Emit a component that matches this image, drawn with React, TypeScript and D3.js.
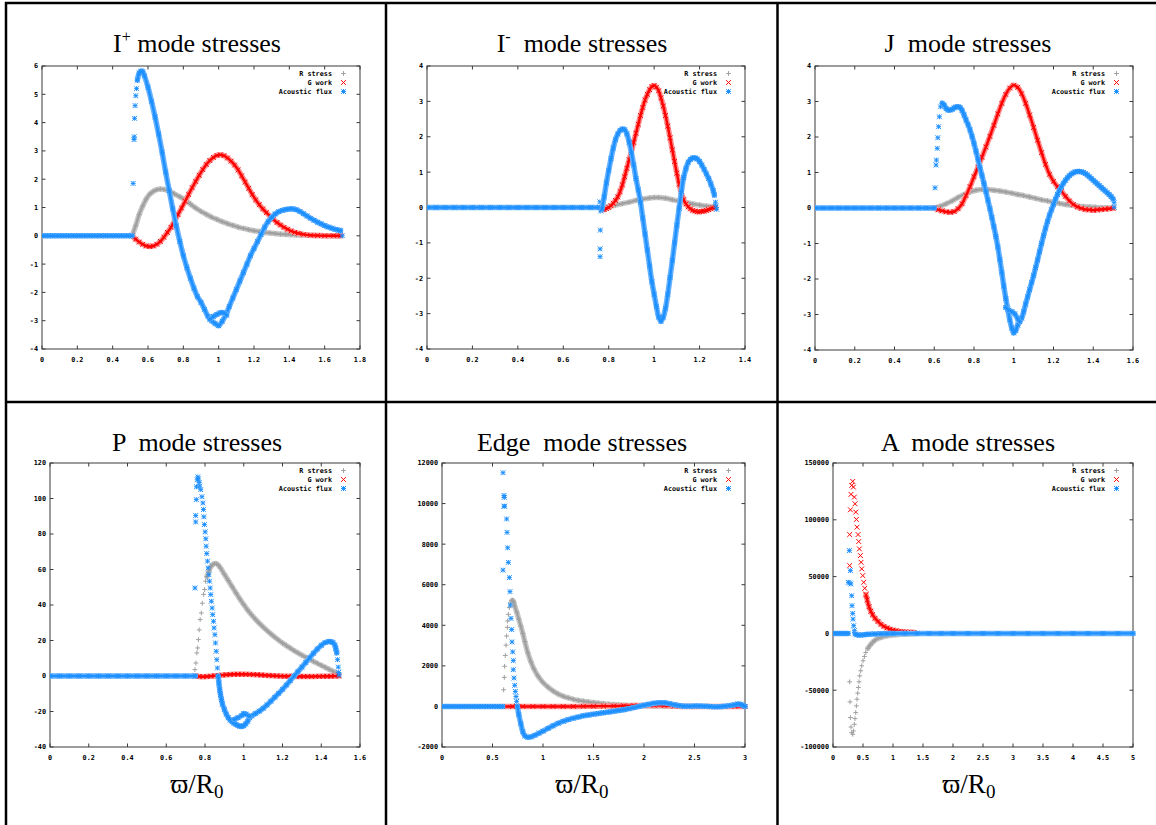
import React from 'react';
import * as d3 from 'd3';

type Pt = [number, number];

// ---------------- Panel 1: I+ mode ----------------
const iPlusXTicks = [0, 0.2, 0.4, 0.6, 0.8, 1, 1.2, 1.4, 1.6, 1.8];
const iPlusYTicks = [-4, -3, -2, -1, 0, 1, 2, 3, 4, 5, 6];
const iPlusR: Pt[] = [[0.51,0],[0.53,0.35],[0.55,0.75],[0.57,1.05],[0.59,1.3],[0.61,1.47],[0.63,1.57],[0.65,1.63],[0.67,1.65],[0.69,1.64],[0.71,1.6],[0.73,1.55],[0.75,1.48],[0.78,1.38],[0.81,1.27],[0.84,1.12],[0.87,0.98],[0.9,0.86],[0.93,0.76],[0.96,0.66],[0.99,0.58],[1.02,0.5],[1.05,0.43],[1.08,0.37],[1.11,0.31],[1.14,0.26],[1.17,0.22],[1.2,0.18],[1.23,0.15],[1.26,0.12],[1.29,0.1],[1.32,0.08],[1.35,0.06],[1.38,0.05],[1.41,0.04],[1.44,0.03],[1.5,0.02],[1.55,0.01],[1.6,0.005],[1.65,0],[1.69,0]];
const iPlusG: Pt[] = [[0.51,0],[0.53,-0.12],[0.55,-0.22],[0.57,-0.3],[0.59,-0.36],[0.61,-0.38],[0.63,-0.36],[0.65,-0.3],[0.67,-0.2],[0.69,-0.05],[0.71,0.12],[0.73,0.3],[0.75,0.52],[0.77,0.75],[0.79,0.98],[0.81,1.22],[0.83,1.46],[0.85,1.7],[0.87,1.92],[0.89,2.14],[0.91,2.34],[0.93,2.52],[0.95,2.66],[0.97,2.77],[0.99,2.84],[1.01,2.86],[1.03,2.83],[1.05,2.75],[1.07,2.64],[1.09,2.5],[1.11,2.33],[1.13,2.12],[1.15,1.9],[1.17,1.68],[1.19,1.46],[1.21,1.27],[1.23,1.1],[1.25,0.95],[1.27,0.82],[1.29,0.7],[1.31,0.58],[1.33,0.47],[1.35,0.38],[1.37,0.3],[1.39,0.23],[1.41,0.17],[1.43,0.12],[1.45,0.09],[1.48,0.05],[1.52,0.02],[1.56,0.01],[1.6,0],[1.65,0],[1.69,0]];
const iPlusFluxFlat: Pt[] = [[0,0],[0.03,0],[0.06,0],[0.09,0],[0.12,0],[0.15,0],[0.18,0],[0.21,0],[0.24,0],[0.27,0],[0.3,0],[0.33,0],[0.36,0],[0.39,0],[0.42,0],[0.45,0],[0.48,0],[0.51,0]];
const iPlusFluxRise: Pt[] = [[0.516,1.85],[0.521,3.4],[0.522,3.5],[0.524,4.15],[0.527,4.6],[0.531,4.95],[0.535,5.2],[1.7,0]];
const iPlusFluxMain: Pt[] = [[0.54,5.5],[0.55,5.75],[0.56,5.82],[0.57,5.8],[0.58,5.65],[0.6,5.25],[0.62,4.75],[0.64,4.2],[0.66,3.6],[0.68,2.95],[0.7,2.25],[0.72,1.6],[0.74,0.95],[0.76,0.35],[0.78,-0.2],[0.8,-0.7],[0.82,-1.12],[0.84,-1.5],[0.86,-1.85],[0.88,-2.15],[0.9,-2.35],[0.92,-2.6],[0.94,-2.85],[0.96,-3.0],[0.98,-3.1],[1.0,-3.18],[1.02,-3.02],[1.04,-2.8],[1.06,-2.5],[1.08,-2.2],[1.1,-1.9],[1.12,-1.6],[1.14,-1.3],[1.16,-1.0],[1.18,-0.7],[1.2,-0.45],[1.22,-0.2],[1.24,0.05],[1.26,0.3],[1.28,0.5],[1.3,0.65],[1.32,0.77],[1.34,0.85],[1.36,0.9],[1.38,0.93],[1.4,0.95],[1.42,0.95],[1.44,0.92],[1.46,0.86],[1.48,0.78],[1.5,0.7],[1.52,0.62],[1.54,0.55],[1.56,0.48],[1.58,0.42],[1.6,0.36],[1.62,0.31],[1.64,0.27],[1.66,0.23],[1.68,0.2],[1.69,0.18]];
const iPlusFluxLoop: Pt[] = [[0.95,-2.95],[0.97,-2.85],[0.99,-2.78],[1.01,-2.72],[1.03,-2.72],[1.045,-2.8]];

// ---------------- Panel 2: I- mode ----------------
const iMinusXTicks = [0, 0.2, 0.4, 0.6, 0.8, 1, 1.2, 1.4];
const iMinusYTicks = [-4, -3, -2, -1, 0, 1, 2, 3, 4];
const iMinusR: Pt[] = [[0.77,0],[0.8,0.03],[0.83,0.07],[0.86,0.11],[0.89,0.15],[0.92,0.2],[0.95,0.24],[0.98,0.27],[1.0,0.28],[1.02,0.28],[1.05,0.26],[1.08,0.22],[1.11,0.18],[1.14,0.14],[1.17,0.1],[1.2,0.07],[1.23,0.04],[1.26,0.02],[1.27,0.01]];
const iMinusG: Pt[] = [[0.77,-0.05],[0.78,-0.06],[0.79,-0.03],[0.8,0.0],[0.81,0.05],[0.82,0.12],[0.83,0.2],[0.84,0.3],[0.85,0.45],[0.86,0.64],[0.87,0.87],[0.88,1.11],[0.89,1.35],[0.9,1.58],[0.91,1.84],[0.92,2.1],[0.93,2.35],[0.94,2.6],[0.95,2.83],[0.96,3.04],[0.97,3.2],[0.98,3.33],[0.99,3.42],[1.0,3.45],[1.01,3.4],[1.02,3.3],[1.03,3.1],[1.04,2.87],[1.05,2.6],[1.06,2.3],[1.07,1.97],[1.08,1.63],[1.09,1.3],[1.1,0.97],[1.11,0.66],[1.12,0.4],[1.13,0.22],[1.14,0.1],[1.15,0.02],[1.16,-0.04],[1.17,-0.08],[1.18,-0.1],[1.19,-0.12],[1.2,-0.12],[1.21,-0.11],[1.22,-0.1],[1.23,-0.08],[1.24,-0.06],[1.25,-0.03],[1.26,-0.01],[1.27,0]];
const iMinusFluxFlat: Pt[] = [[0,0],[0.04,0],[0.08,0],[0.12,0],[0.16,0],[0.2,0],[0.24,0],[0.28,0],[0.32,0],[0.36,0],[0.4,0],[0.44,0],[0.48,0],[0.52,0],[0.56,0],[0.6,0],[0.64,0],[0.68,0],[0.72,0],[0.76,0]];
const iMinusFluxSparse: Pt[] = [[0.761,0.16],[0.763,-0.64],[0.762,-1.17],[0.762,-1.39],[0.765,-0.1],[1.27,0.15],[1.272,0.05],[1.275,-0.05]];
const iMinusFluxMain: Pt[] = [[0.77,-0.05],[0.78,0.3],[0.79,0.7],[0.8,1.05],[0.81,1.38],[0.82,1.68],[0.83,1.92],[0.84,2.08],[0.85,2.18],[0.86,2.22],[0.87,2.2],[0.88,2.08],[0.89,1.85],[0.9,1.55],[0.91,1.2],[0.92,0.82],[0.93,0.5],[0.94,0.15],[0.95,-0.3],[0.96,-0.75],[0.97,-1.2],[0.98,-1.65],[0.99,-2.1],[1.0,-2.45],[1.01,-2.8],[1.02,-3.1],[1.03,-3.22],[1.04,-3.1],[1.05,-2.85],[1.06,-2.45],[1.07,-1.98],[1.08,-1.5],[1.09,-1.0],[1.1,-0.5],[1.11,-0.02],[1.12,0.45],[1.13,0.85],[1.14,1.1],[1.15,1.28],[1.16,1.36],[1.17,1.4],[1.18,1.4],[1.19,1.37],[1.2,1.3],[1.21,1.2],[1.22,1.08],[1.23,0.95],[1.24,0.82],[1.25,0.66],[1.26,0.48],[1.265,0.35]];

// ---------------- Panel 3: J mode ----------------
const jXTicks = [0, 0.2, 0.4, 0.6, 0.8, 1, 1.2, 1.4, 1.6];
const jYTicks = [-4, -3, -2, -1, 0, 1, 2, 3, 4];
const jR: Pt[] = [[0.6,0],[0.63,0.05],[0.66,0.12],[0.69,0.2],[0.72,0.3],[0.75,0.38],[0.78,0.45],[0.81,0.5],[0.84,0.52],[0.87,0.52],[0.9,0.5],[0.93,0.48],[0.96,0.45],[0.99,0.42],[1.02,0.38],[1.05,0.35],[1.08,0.31],[1.11,0.27],[1.14,0.23],[1.17,0.2],[1.2,0.16],[1.23,0.13],[1.26,0.1],[1.29,0.08],[1.32,0.06],[1.35,0.04],[1.38,0.03],[1.41,0.02],[1.44,0.01],[1.47,0.005],[1.5,0]];
const jG: Pt[] = [[0.6,0],[0.62,-0.05],[0.64,-0.08],[0.66,-0.11],[0.68,-0.12],[0.7,-0.1],[0.72,-0.02],[0.74,0.12],[0.76,0.35],[0.78,0.6],[0.8,0.88],[0.82,1.15],[0.84,1.43],[0.86,1.72],[0.88,2.02],[0.9,2.33],[0.92,2.65],[0.94,2.95],[0.96,3.2],[0.98,3.38],[1.0,3.46],[1.02,3.4],[1.04,3.22],[1.06,2.95],[1.08,2.62],[1.1,2.27],[1.12,1.91],[1.14,1.56],[1.16,1.23],[1.18,0.95],[1.2,0.75],[1.22,0.6],[1.24,0.47],[1.26,0.33],[1.28,0.2],[1.3,0.1],[1.32,0.03],[1.34,-0.01],[1.36,-0.04],[1.38,-0.05],[1.4,-0.06],[1.42,-0.05],[1.44,-0.04],[1.46,-0.03],[1.48,-0.02],[1.5,-0.01]];
const jFluxFlat: Pt[] = [[0,0],[0.04,0],[0.08,0],[0.12,0],[0.16,0],[0.2,0],[0.24,0],[0.28,0],[0.32,0],[0.36,0],[0.4,0],[0.44,0],[0.48,0],[0.52,0],[0.56,0],[0.6,0]];
const jFluxSparse: Pt[] = [[0.604,0.57],[0.609,1.21],[0.611,1.35],[0.615,1.68],[0.618,1.98],[0.622,2.29],[0.626,2.57],[0.632,2.85],[1.505,0.15],[1.505,0.02]];
const jFluxMain: Pt[] = [[0.64,2.95],[0.65,2.9],[0.66,2.8],[0.67,2.76],[0.68,2.76],[0.69,2.78],[0.7,2.82],[0.71,2.85],[0.72,2.85],[0.73,2.83],[0.74,2.75],[0.75,2.62],[0.76,2.48],[0.77,2.35],[0.78,2.2],[0.79,2.02],[0.8,1.82],[0.81,1.6],[0.82,1.37],[0.83,1.14],[0.84,0.92],[0.85,0.69],[0.86,0.46],[0.87,0.22],[0.88,-0.02],[0.89,-0.27],[0.9,-0.53],[0.91,-0.8],[0.92,-1.1],[0.93,-1.45],[0.94,-1.82],[0.95,-2.2],[0.96,-2.55],[0.97,-2.85],[0.98,-3.15],[0.99,-3.38],[1.0,-3.52],[1.01,-3.45],[1.02,-3.3],[1.03,-3.2],[1.04,-3.1],[1.05,-2.92],[1.06,-2.7],[1.07,-2.5],[1.08,-2.3],[1.09,-2.1],[1.1,-1.9],[1.11,-1.68],[1.12,-1.46],[1.13,-1.23],[1.14,-1.0],[1.15,-0.78],[1.16,-0.57],[1.17,-0.38],[1.18,-0.2],[1.19,-0.05],[1.2,0.1],[1.21,0.25],[1.22,0.38],[1.23,0.5],[1.24,0.6],[1.25,0.7],[1.26,0.78],[1.27,0.85],[1.28,0.91],[1.29,0.96],[1.3,0.99],[1.31,1.02],[1.32,1.03],[1.33,1.03],[1.34,1.02],[1.35,1.0],[1.36,0.97],[1.37,0.93],[1.38,0.88],[1.39,0.83],[1.4,0.78],[1.41,0.73],[1.42,0.68],[1.43,0.63],[1.44,0.58],[1.45,0.53],[1.46,0.48],[1.47,0.43],[1.48,0.38],[1.49,0.32],[1.5,0.25]];
const jFluxLoop: Pt[] = [[0.96,-2.8],[0.975,-2.88],[0.99,-2.92],[1.005,-2.98],[1.02,-3.12],[1.03,-3.2]];

// ---------------- Panel 4: P mode ----------------
const pXTicks = [0, 0.2, 0.4, 0.6, 0.8, 1, 1.2, 1.4, 1.6];
const pYTicks = [-40, -20, 0, 20, 40, 60, 80, 100, 120];
const pRSparse: Pt[] = [[0.748,3.6],[0.753,7.3],[0.758,13],[0.762,15.8],[0.766,20.5],[0.77,26],[0.775,31.8],[0.781,35.5],[0.786,41],[0.793,46],[0.798,48.7],[0.803,53.4]];
const pRMain: Pt[] = [[0.81,56],[0.82,59],[0.83,61.5],[0.84,62.8],[0.85,63.3],[0.86,63.2],[0.87,62.3],[0.88,60.8],[0.9,57.3],[0.92,53.8],[0.94,50.3],[0.96,46.8],[0.98,43.4],[1.0,40.2],[1.02,37.2],[1.04,34.5],[1.06,32],[1.08,29.7],[1.1,27.6],[1.12,25.6],[1.14,23.7],[1.16,21.9],[1.18,20.2],[1.2,18.6],[1.22,17.1],[1.24,15.7],[1.26,14.3],[1.28,13],[1.3,11.7],[1.32,10.5],[1.34,9.3],[1.36,8.2],[1.38,7.1],[1.4,6],[1.42,4.9],[1.44,3.8],[1.46,2.7],[1.48,1.5],[1.49,0.8]];
const pG: Pt[] = [[0.75,0],[0.77,-0.3],[0.79,-0.4],[0.81,-0.3],[0.83,-0.1],[0.85,0.1],[0.87,0.3],[0.89,0.5],[0.91,0.7],[0.93,0.85],[0.95,0.95],[0.97,1.0],[0.99,1.0],[1.01,0.95],[1.03,0.9],[1.05,0.8],[1.07,0.7],[1.09,0.55],[1.11,0.4],[1.13,0.3],[1.15,0.15],[1.17,0.05],[1.19,-0.05],[1.21,-0.1],[1.23,-0.15],[1.25,-0.2],[1.27,-0.22],[1.29,-0.24],[1.31,-0.25],[1.33,-0.25],[1.35,-0.24],[1.37,-0.22],[1.39,-0.2],[1.41,-0.17],[1.43,-0.13],[1.45,-0.1],[1.47,-0.05],[1.49,0]];
const pFluxFlat: Pt[] = [[0,0],[0.05,0],[0.1,0],[0.15,0],[0.2,0],[0.25,0],[0.3,0],[0.35,0],[0.4,0],[0.45,0],[0.5,0],[0.55,0],[0.6,0],[0.65,0],[0.7,0],[0.75,0]];
const pFluxSparse: Pt[] = [[0.748,49.6],[0.752,86.8],[0.752,90.4],[0.755,99.4],[0.756,106.6],[0.76,110.5],[0.763,112.2],[0.766,111],[0.77,109],[0.773,107],[0.778,105],[0.784,101],[0.789,97.5],[0.792,93.8],[0.794,89.7],[0.797,85.3],[0.801,81.2],[0.804,77.3],[0.806,73.1],[0.809,69],[0.813,64.7],[0.816,60.9],[0.82,57.1],[0.823,53.4],[0.827,49.6],[0.83,45.9],[0.833,42.1],[0.837,38.3],[0.84,34.6],[0.844,30.8],[0.847,27.1],[0.851,23.3],[0.854,18.6],[0.858,13.9],[0.861,9.2],[0.864,4.5],[1.484,9.2],[1.488,5],[1.49,2],[1.492,0.5]];
const pFluxMain: Pt[] = [[0.868,0],[0.872,-4],[0.876,-7.7],[0.88,-10.5],[0.885,-13.3],[0.89,-15.8],[0.9,-18.8],[0.91,-21.5],[0.92,-23.5],[0.93,-24.8],[0.94,-25.8],[0.95,-26.6],[0.96,-27.3],[0.97,-27.9],[0.98,-28.3],[0.99,-28.4],[1.0,-28],[1.01,-27],[1.02,-25.5],[1.03,-23.5],[1.04,-22.5],[1.06,-21.2],[1.08,-19.8],[1.1,-18.2],[1.12,-16.3],[1.14,-14.2],[1.16,-12],[1.18,-9.8],[1.2,-7.5],[1.22,-5.1],[1.24,-2.6],[1.26,0],[1.28,2.5],[1.3,5],[1.32,7.6],[1.34,10.2],[1.36,12.8],[1.38,15.2],[1.4,17.3],[1.42,18.8],[1.44,19.4],[1.45,19.3],[1.46,18.8],[1.47,17.5],[1.475,15.5],[1.48,13]];
const pFluxLoop: Pt[] = [[0.95,-24.5],[0.97,-23.5],[0.99,-22.2],[1.0,-21.2],[1.01,-21.5],[1.03,-22.7]];

// ---------------- Panel 5: Edge mode ----------------
const edgeXTicks = [0, 0.5, 1, 1.5, 2, 2.5, 3];
const edgeYTicks = [-2000, 0, 2000, 4000, 6000, 8000, 10000, 12000];
const edgeRSparse: Pt[] = [[0.61,820],[0.617,1430],[0.62,1980],[0.627,2510],[0.634,3020],[0.64,3470],[0.647,3900],[0.65,4210],[0.657,4540],[0.667,4870],[0.677,5100]];
const edgeRMain: Pt[] = [[0.69,5200],[0.7,5230],[0.71,5150],[0.72,4950],[0.74,4650],[0.76,4300],[0.78,3960],[0.8,3600],[0.82,3200],[0.85,2640],[0.88,2200],[0.91,1850],[0.95,1500],[1.0,1180],[1.05,950],[1.1,760],[1.15,610],[1.2,500],[1.25,420],[1.3,350],[1.35,300],[1.4,260],[1.45,220],[1.5,190],[1.55,160],[1.6,135],[1.65,110],[1.7,90],[1.75,75],[1.8,60],[1.85,50],[1.9,40],[2.0,30],[2.1,20],[2.2,15],[2.3,10],[2.4,5],[2.5,0]];
const edgeG: Pt[] = [[0.6,0],[0.7,0],[0.8,0],[0.9,0],[1.0,0],[1.1,0],[1.2,0],[1.3,0],[1.4,5],[1.5,10],[1.6,15],[1.7,20],[1.8,30],[1.9,40],[2.0,50],[2.1,50],[2.2,40],[2.3,20],[2.4,0],[2.5,0],[2.6,0],[2.7,0],[2.8,0],[2.9,0],[3.0,0]];
const edgeFluxFlat: Pt[] = [[0,0],[0.05,0],[0.1,0],[0.15,0],[0.2,0],[0.25,0],[0.3,0],[0.35,0],[0.4,0],[0.45,0],[0.5,0],[0.55,0],[0.6,0]];
const edgeFluxSparse: Pt[] = [[0.604,11520],[0.604,6720],[0.614,10400],[0.617,10300],[0.614,9870],[0.62,9870],[0.64,9240],[0.644,8580],[0.65,7820],[0.657,7100],[0.667,6350],[0.673,5660],[0.677,5000],[0.683,4340],[0.69,3790],[0.693,3180],[0.7,2690],[0.706,2260],[0.706,1810],[0.713,1400],[0.72,1040],[0.726,740],[0.733,490],[0.739,250]];
const edgeFluxMain: Pt[] = [[0.746,0],[0.76,-400],[0.78,-850],[0.8,-1250],[0.82,-1450],[0.85,-1520],[0.88,-1500],[0.92,-1420],[0.96,-1320],[1.0,-1220],[1.05,-1080],[1.1,-950],[1.15,-830],[1.2,-730],[1.25,-650],[1.3,-580],[1.35,-520],[1.4,-460],[1.45,-420],[1.5,-380],[1.55,-345],[1.6,-310],[1.65,-275],[1.7,-240],[1.75,-200],[1.8,-160],[1.85,-110],[1.9,-60],[1.95,0],[2.0,60],[2.05,110],[2.1,160],[2.15,185],[2.2,180],[2.25,140],[2.3,80],[2.35,40],[2.4,10],[2.45,10],[2.5,20],[2.55,20],[2.6,10],[2.65,0],[2.7,-20],[2.75,-10],[2.8,10],[2.85,40],[2.9,80],[2.93,120],[2.96,100],[2.98,50],[3.0,0]];

// ---------------- Panel 6: A mode ----------------
const aXTicks = [0, 0.5, 1, 1.5, 2, 2.5, 3, 3.5, 4, 4.5, 5];
const aYTicks = [-100000, -50000, 0, 50000, 100000, 150000];
const aRSparse: Pt[] = [[0.278,-42600],[0.284,-60300],[0.29,-74100],[0.3,-82400],[0.312,-87400],[0.329,-88800],[0.34,-85900],[0.356,-80000],[0.367,-75000],[0.379,-69700],[0.39,-63800],[0.4,-57900],[0.412,-52600],[0.423,-47600],[0.434,-42600],[0.445,-37400],[0.462,-32900],[0.479,-28500],[0.501,-24100],[0.523,-20300],[0.546,-16800]];
const aRMain: Pt[] = [[0.58,-13200],[0.62,-10300],[0.66,-7900],[0.71,-5600],[0.8,-3500],[0.9,-2100],[1.05,-1200],[1.2,-500],[1.4,0]];
const aGSparse: Pt[] = [[0.278,59700],[0.278,87000],[0.29,108800],[0.3,122400],[0.312,130300],[0.329,133800],[0.34,128800],[0.356,120000],[0.367,114100],[0.379,106800],[0.39,100300],[0.4,93500],[0.418,87000],[0.429,80900],[0.44,74400],[0.457,68500],[0.468,62600],[0.479,56800],[0.496,50900],[0.512,45000],[0.529,39700],[0.546,34700]];
const aGMain: Pt[] = [[0.55,34000],[0.57,29500],[0.6,23500],[0.63,19500],[0.66,16500],[0.7,13300],[0.75,10500],[0.8,8000],[0.85,6200],[0.9,4800],[0.95,3700],[1.0,2900],[1.05,2300],[1.1,1800],[1.15,1500],[1.2,1250],[1.25,1100],[1.3,1000],[1.35,900]];
const aFluxFlat: Pt[] = [[0,0],[0.05,0],[0.1,0],[0.15,0],[0.2,0],[0.25,0]];
const aFluxSparse: Pt[] = [[0.256,45000],[0.273,72900],[0.278,44400],[0.29,55300],[0.3,43500],[0.312,33200],[0.317,24400],[0.329,17600],[0.334,12600],[0.345,6800],[0.356,2400]];
const aFluxMain: Pt[] = [[0.37,-500],[0.4,-1300],[0.45,-1500],[0.5,-1300],[0.55,-900],[0.6,-700],[0.7,-500],[0.8,-300],[0.9,-200],[1.0,-100],[1.2,0],[1.4,0],[1.6,0],[1.8,0],[2.0,0],[2.25,0],[2.5,0],[2.75,0],[3.0,0],[3.25,0],[3.5,0],[3.75,0],[4.0,0],[4.25,0],[4.5,0],[4.75,0],[5.0,0]];

const seriesNames = ['R stress', 'G work', 'Acoustic flux'];
const seriesColors = ['#a0a0a0', '#ff0000', '#1e90ff'];
const bandColors = ['#c8c8c8', '#ff8f8f', '#66b2ff'];

interface Seg { data: Pt[]; dense: boolean }
interface Panel {
  title: string; sup?: string; rest: string;
  box: { l: number; r: number; t: number; b: number };
  titleX: number; titleY: number;
  xDomain: [number, number]; yDomain: [number, number];
  xTicks: number[]; yTicks: number[];
  series: Seg[][];
  xlabel?: { x: number; y: number };
}

const panels: Panel[] = [
  { title: 'I', sup: '+', rest: ' mode stresses', box: { l: 42, r: 360, t: 66, b: 349 }, titleX: 197, titleY: 52,
    xDomain: [0, 1.8], yDomain: [-4, 6], xTicks: iPlusXTicks, yTicks: iPlusYTicks,
    series: [[{ data: iPlusR, dense: true }], [{ data: iPlusG, dense: true }],
      [{ data: iPlusFluxFlat, dense: true }, { data: iPlusFluxRise, dense: false }, { data: iPlusFluxMain, dense: true }, { data: iPlusFluxLoop, dense: true }]] },
  { title: 'I', sup: '-', rest: '  mode stresses', box: { l: 427, r: 745, t: 66, b: 349 }, titleX: 582, titleY: 52,
    xDomain: [0, 1.4], yDomain: [-4, 4], xTicks: iMinusXTicks, yTicks: iMinusYTicks,
    series: [[{ data: iMinusR, dense: true }], [{ data: iMinusG, dense: true }],
      [{ data: iMinusFluxFlat, dense: true }, { data: iMinusFluxSparse, dense: false }, { data: iMinusFluxMain, dense: true }]] },
  { title: 'J', rest: '  mode stresses', box: { l: 815, r: 1133, t: 66, b: 350 }, titleX: 968, titleY: 52,
    xDomain: [0, 1.6], yDomain: [-4, 4], xTicks: jXTicks, yTicks: jYTicks,
    series: [[{ data: jR, dense: true }], [{ data: jG, dense: true }],
      [{ data: jFluxFlat, dense: true }, { data: jFluxSparse, dense: false }, { data: jFluxMain, dense: true }, { data: jFluxLoop, dense: true }]] },
  { title: 'P', rest: '  mode stresses', box: { l: 50, r: 360, t: 463, b: 747 }, titleX: 197, titleY: 451,
    xDomain: [0, 1.6], yDomain: [-40, 120], xTicks: pXTicks, yTicks: pYTicks,
    series: [[{ data: pRSparse, dense: false }, { data: pRMain, dense: true }], [{ data: pG, dense: true }],
      [{ data: pFluxFlat, dense: true }, { data: pFluxSparse, dense: false }, { data: pFluxMain, dense: true }, { data: pFluxLoop, dense: true }]],
    xlabel: { x: 197, y: 793 } },
  { title: 'Edge', rest: '  mode stresses', box: { l: 442, r: 745, t: 463, b: 747 }, titleX: 582, titleY: 451,
    xDomain: [0, 3], yDomain: [-2000, 12000], xTicks: edgeXTicks, yTicks: edgeYTicks,
    series: [[{ data: edgeRSparse, dense: false }, { data: edgeRMain, dense: true }], [{ data: edgeG, dense: true }],
      [{ data: edgeFluxFlat, dense: true }, { data: edgeFluxSparse, dense: false }, { data: edgeFluxMain, dense: true }]],
    xlabel: { x: 582, y: 793 } },
  { title: 'A', rest: '  mode stresses', box: { l: 833, r: 1133, t: 463, b: 747 }, titleX: 968, titleY: 451,
    xDomain: [0, 5], yDomain: [-100000, 150000], xTicks: aXTicks, yTicks: aYTicks,
    series: [[{ data: aRSparse, dense: false }, { data: aRMain, dense: true }], [{ data: aGSparse, dense: false }, { data: aGMain, dense: true }],
      [{ data: aFluxFlat, dense: true }, { data: aFluxSparse, dense: false }, { data: aFluxMain, dense: true }]],
    xlabel: { x: 969, y: 793 } },
];

const S = 2.4;
function markerPath(kind: number, x: number, y: number): string {
  const plus = `M${x - S},${y}H${x + S}M${x},${y - S}V${y + S}`;
  const cross = `M${x - S},${y - S}L${x + S},${y + S}M${x - S},${y + S}L${x + S},${y - S}`;
  if (kind === 0) return plus;
  if (kind === 1) return cross;
  return plus + cross;
}

const fmt = (v: number) => String(Math.round(v * 1000) / 1000);
const tickFont = "'DejaVu Sans Mono', monospace";
const serif = "'Liberation Serif', 'Times New Roman', 'DejaVu Serif', serif";

function PanelView({ p, idx }: { p: Panel; idx: number }) {
  const { l, r, t, b } = p.box;
  const x = d3.scaleLinear().domain(p.xDomain).range([l, r]);
  const y = d3.scaleLinear().domain(p.yDomain).range([b, t]);
  const line = d3.line<Pt>().x(d => x(d[0])).y(d => y(d[1])).curve(d3.curveCatmullRom);
  const clipId = `clip${idx}`;
  const tl = 3.5;
  return (
    <g>
      <defs>
        <clipPath id={clipId}><rect x={l} y={t - 3} width={r - l + 3} height={b - t + 6} /></clipPath>
      </defs>
      <text x={p.titleX} y={p.titleY} textAnchor="middle" fontFamily={serif} fontSize={26} xmlSpace="preserve" style={{ whiteSpace: 'pre' }}>
        <tspan>{p.title}</tspan>
        {p.sup ? <tspan dy={-10} fontSize={16}>{p.sup}</tspan> : null}
        <tspan dy={p.sup ? 10 : 0}>{p.rest}</tspan>
      </text>
      <rect x={l} y={t} width={r - l} height={b - t} fill="none" stroke="#3a3a3a" strokeWidth={1} />
      {p.xTicks.map(v => (
        <g key={'x' + v}>
          <line x1={x(v)} x2={x(v)} y1={b} y2={b - tl} stroke="#3a3a3a" />
          <line x1={x(v)} x2={x(v)} y1={t} y2={t + tl} stroke="#3a3a3a" />
          <text x={x(v)} y={b + 12.5} textAnchor="middle" fontFamily={tickFont} fontWeight="bold" fontSize={6.8} fill="#000">{fmt(v)}</text>
        </g>
      ))}
      {p.yTicks.map(v => (
        <g key={'y' + v}>
          <line x1={l} x2={l + tl} y1={y(v)} y2={y(v)} stroke="#3a3a3a" />
          <line x1={r} x2={r - tl} y1={y(v)} y2={y(v)} stroke="#3a3a3a" />
          <text x={l - 4} y={y(v) + 2.4} textAnchor="end" fontFamily={tickFont} fontWeight="bold" fontSize={6.8} fill="#000">{fmt(v)}</text>
        </g>
      ))}
      <g clipPath={`url(#${clipId})`}>
        {p.series.map((segs, si) => (
          <g key={si}>
            {segs.map((seg, gi) => (
              <g key={gi}>
                {seg.dense ? (
                  <>
                    <path d={line(seg.data) || ''} fill="none" stroke={bandColors[si]} strokeWidth={5.5} strokeLinejoin="round" strokeLinecap="round" />
                    <path d={line(seg.data) || ''} fill="none" stroke={seriesColors[si]} strokeWidth={2.4} strokeLinejoin="round" strokeLinecap="round" />
                  </>
                ) : null}
                <path d={seg.data.map(d => markerPath(si, x(d[0]), y(d[1]))).join('')} fill="none" stroke={seriesColors[si]} strokeWidth={1} />
              </g>
            ))}
          </g>
        ))}
      </g>
      {seriesNames.map((name, si) => {
        const ly = t + 7.5 + si * 9;
        return (
          <g key={name}>
            <text x={r - 28} y={ly + 2.4} textAnchor="end" fontFamily={tickFont} fontWeight="bold" fontSize={6.8} fill="#000">{name}</text>
            <path d={markerPath(si, r - 16.5, ly)} fill="none" stroke={seriesColors[si]} strokeWidth={1} />
          </g>
        );
      })}
      {p.xlabel ? (
        <text x={p.xlabel.x} y={p.xlabel.y} textAnchor="middle" fontFamily={serif} fontSize={27}>
          <tspan>ϖ/R</tspan>
          <tspan dy={5} fontSize={19}>0</tspan>
        </text>
      ) : null}
    </g>
  );
}

export default function App() {
  const W = 1156, H = 825;
  return (
    <svg width={W} height={H} style={{ position: 'absolute', left: 0, top: 0, background: '#fff' }}>
      <rect x={0} y={0} width={W} height={H} fill="#fff" />
      {panels.map((p, i) => <PanelView key={i} p={p} idx={i} />)}
      <g stroke="#000" strokeWidth={2.5}>
        <line x1={5} x2={W} y1={3} y2={3} />
        <line x1={6} x2={6} y1={2} y2={H} />
        <line x1={386} x2={386} y1={2} y2={H} />
        <line x1={777.5} x2={777.5} y1={2} y2={H} />
        <line x1={5} x2={W} y1={402} y2={402} />
      </g>
    </svg>
  );
}
